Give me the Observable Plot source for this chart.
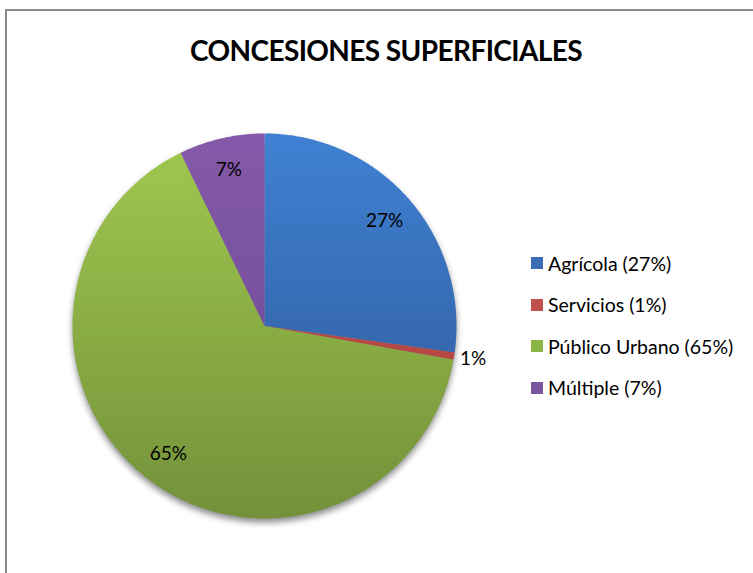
<!DOCTYPE html>
<html>
<head>
<meta charset="utf-8">
<script src="https://cdn.jsdelivr.net/npm/d3@7"></script>
<script src="https://cdn.jsdelivr.net/npm/@observablehq/plot@0.6"></script>
<style>
  html, body { margin: 0; padding: 0; background: #fff; width: 753px; height: 573px; overflow: hidden; }
  #frame { position: absolute; left: 5px; top: 9px; width: 900px; height: 700px; border: 2px solid #8c8c8c; box-sizing: border-box; }
  #title { position: absolute; left: 0; width: 772px; top: 33px; text-align: center; font-family: Lato, "Open Sans", sans-serif; font-weight: 700; font-size: 28px; letter-spacing: -0.6px; color: #000; }
  #chart { position: absolute; left: 0; top: 80px; }
  #chart g.pie { filter: drop-shadow(0px 4px 3px rgba(0,0,0,0.45)); }
  #legend { position: absolute; left: 531px; top: 253px; font-family: Lato, "Open Sans", sans-serif; font-size: 19.5px; color: #000; }
  .sw { width: 12px; height: 12px; margin-right: 5px; box-sizing: border-box; flex: none; }
  .row { height: 20px; display: flex; align-items: center; margin-bottom: 21.5px; white-space: nowrap; }
</style>
</head>
<body>
<div id="frame"></div>
<div id="title">CONCESIONES SUPERFICIALES</div>
<div id="chart"></div>
<div id="legend"></div>
<svg width="0" height="0" style="position:absolute">
  <defs id="defs"></defs>
</svg>
<script>
// Data
const categories = ["Agrícola", "Servicios", "Público Urbano", "Múltiple"];
const values = [27.2, 0.6, 65.0, 7.2];
const colorsTop = ["#4081d3", "#c9534f", "#a0c94f", "#8459a9"];
const colorsBottom = ["#2c5592", "#a83e3b", "#73913a", "#6a4790"];
const legendColors = ["#3a6db6", "#c0504d", "#8db545", "#7b56a0"];

const W = 528, H = 490;
const mT = 53, mB = 52, mL = 72, mR = 72;
const pieTopY = mT, pieBottomY = H - mB;

// gradients
const defs = d3.select("#defs");
categories.forEach((c, i) => {
  const g = defs.append("linearGradient")
    .attr("id", "grad" + i)
    .attr("gradientUnits", "userSpaceOnUse")
    .attr("x1", 0).attr("x2", 0)
    .attr("y1", pieTopY).attr("y2", pieBottomY);
  g.append("stop").attr("offset", "0%").attr("stop-color", colorsTop[i]);
  g.append("stop").attr("offset", "100%").attr("stop-color", colorsBottom[i]);
});

const total = d3.sum(values);
const slices = [];
let acc = 0;
values.forEach((v, i) => {
  const a0 = acc / total * 2 * Math.PI;
  acc += v;
  const a1 = acc / total * 2 * Math.PI;
  slices.push({ key: categories[i], i, v, a0, a1 });
});

// polygon points for each slice
function slicePoints(s) {
  const pts = [{ key: s.key, x: 0, y: 0 }];
  const n = Math.max(4, Math.ceil((s.a1 - s.a0) / (Math.PI / 360)));
  for (let k = 0; k <= n; k++) {
    const a = s.a0 + (s.a1 - s.a0) * k / n;
    pts.push({ key: s.key, x: Math.sin(a), y: Math.cos(a) });
  }
  pts.push({ key: s.key, x: 0, y: 0 });
  return pts;
}

const labels = slices.map(s => {
  const mid = (s.a0 + s.a1) / 2;
  const pct = s.v / total * 100;
  const rr = pct < 3 ? 1.10 : 0.83;
  return { x: Math.sin(mid) * rr, y: Math.cos(mid) * rr, text: Math.round(pct) + "%" };
});

const marks = slices.map(s =>
  Plot.line(slicePoints(s), { x: "x", y: "y", fill: `url(#grad${s.i})`, stroke: null, curve: "linear" })
);

const plot = Plot.plot({
  width: W, height: H,
  marginTop: mT, marginBottom: mB, marginLeft: mL, marginRight: mR,
  x: { domain: [-1, 1], axis: null },
  y: { domain: [-1, 1], axis: null },
  style: { background: "transparent", overflow: "visible" },
  marks: [
    ...marks,
    Plot.text(labels, { x: "x", y: "y", text: "text", fontSize: 19, fill: "#000", fontFamily: "Lato, 'Open Sans', sans-serif" })
  ]
});
// group the slice paths so a single shadow is applied
const svg = d3.select(plot);
const pieG = svg.insert("g", ":first-child").attr("class", "pie");
svg.selectAll("g[aria-label='line']").each(function() { pieG.node().appendChild(this); });
document.getElementById("chart").appendChild(plot);

// legend
const legend = d3.select("#legend");
slices.forEach((s, i) => {
  const row = legend.append("div").attr("class", "row");
  row.append("div").attr("class", "sw").style("background", legendColors[i]);
  row.append("span").text(`${s.key} (${Math.round(s.v / total * 100)}%)`);
});
</script>
</body>
</html>
